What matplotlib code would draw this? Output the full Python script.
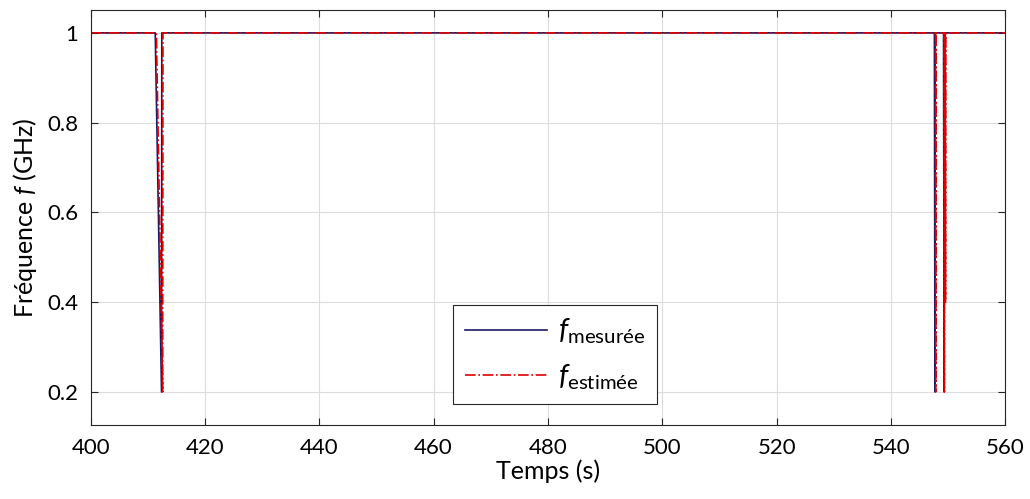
import matplotlib.pyplot as plt
from matplotlib.ticker import FuncFormatter

plt.rcParams['font.family'] = ['Lato', 'DejaVu Sans']
plt.rcParams['mathtext.fontset'] = 'custom'
plt.rcParams['mathtext.rm'] = 'Lato'
plt.rcParams['mathtext.it'] = 'Lato:italic'

# temps (s) et fréquence (GHz)
t_mes = [400, 411.3, 412.4, 412.45, 547.6, 547.7, 547.75, 549.2, 549.3, 549.35,
         549.5, 549.55, 560]
f_mes = [1, 1, 0.2, 1, 1, 0.2, 1, 1, 0.2, 1, 1, 1, 1]

t_est = [400, 411.5, 412.6, 412.65, 547.8, 547.85, 547.9, 549.3, 549.35, 549.4,
         549.45, 549.5, 549.55, 549.6, 560]
f_est = [1, 1, 0.2, 1, 1, 0.2, 1, 1, 0.2, 1, 0.4, 1, 0.4, 1, 1]

fig, ax = plt.subplots(figsize=(10.3, 4.99), dpi=100)
fig.subplots_adjust(left=0.088, right=0.976, top=0.98, bottom=0.148)

ax.plot(t_mes, f_mes, color='#1a1a66', lw=1.2, label=r'$\mathit{f}_{\mathrm{mesurée}}$')
ax.plot(t_est, f_est, color='#e00000', lw=1.2, ls='-.', label=r'$\mathit{f}_{\mathrm{estimée}}$')

ax.set_xlim(400, 560)
ax.set_ylim(0.126, 1.051)
ax.set_xticks(range(400, 561, 20))
ax.set_yticks([0.2, 0.4, 0.6, 0.8, 1])
ax.yaxis.set_major_formatter(FuncFormatter(lambda v, p: '1' if v == 1 else f'{v:.1f}'))
ax.tick_params(direction='in', top=True, right=True, labelsize=16, length=5, color='#262626')
ax.tick_params(axis='x', pad=9)
ax.tick_params(axis='y', pad=9)
ax.grid(True, color='#dddddd', lw=0.8)
for s in ax.spines.values():
    s.set_color('#262626')

ax.set_xlabel('Temps (s)', fontsize=18, labelpad=1)
ax.set_ylabel(r'Fréquence $\mathit{f}$ (GHz)', fontsize=18, labelpad=6)

leg = ax.legend(loc='lower center', bbox_to_anchor=(0.508, 0.017), fontsize=21,
                fancybox=False, edgecolor='#262626', framealpha=1, handlelength=2.8,
                borderpad=0.4, labelspacing=0.55, handletextpad=0.4)
leg.get_frame().set_linewidth(0.8)

plt.savefig('out.png')
